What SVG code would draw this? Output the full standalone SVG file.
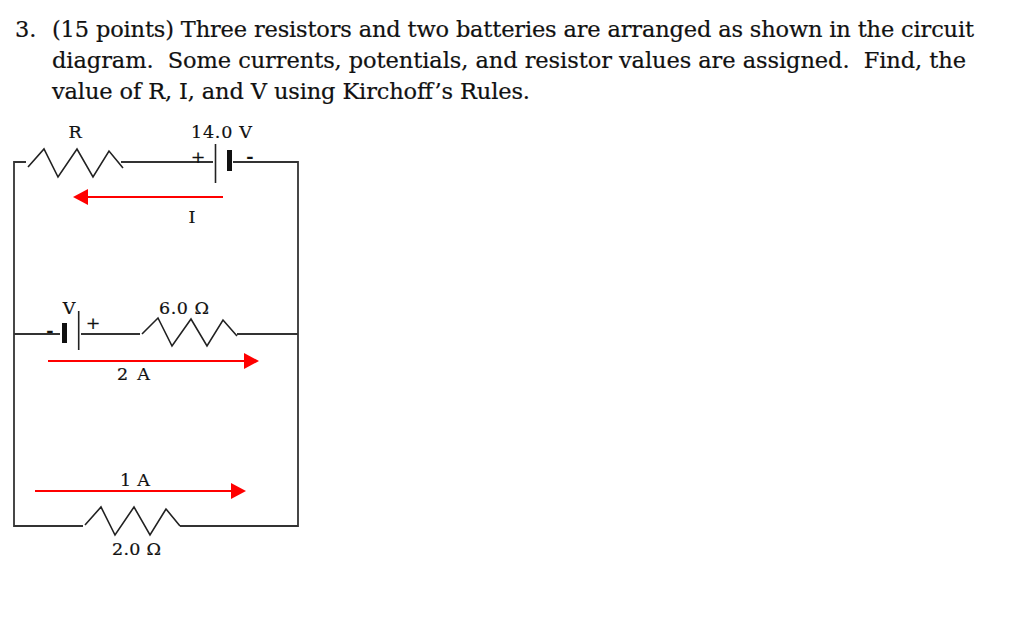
<svg xmlns="http://www.w3.org/2000/svg" width="1024" height="620" viewBox="0 0 1024 620">
<style>
text{font-family:"DejaVu Serif","Liberation Serif",serif;fill:#111;stroke:#111;stroke-width:.2;white-space:pre}
.q{font-size:22.500px}
.l{font-size:17.500px}
.s{font-size:17.500px;text-anchor:middle}
.w{fill:none;stroke:#333;stroke-width:1.800}
.r{fill:none;stroke:#222;stroke-width:1.600}
.a{fill:none;stroke:#f00;stroke-width:2}
.h{fill:#f00}
</style>
<rect width="1024" height="620" fill="#fff"/>
<g id="question">
<text class="q" x="15" y="37">3.</text>
<text class="q" x="52" y="37" textLength="922">(15 points) Three resistors and two batteries are arranged as shown in the circuit</text>
<text class="q" x="52" y="67.500" textLength="914">diagram.  Some currents, potentials, and resistor values are assigned.  Find, the</text>
<text class="q" x="52" y="98.500" textLength="478">value of R, I, and V using Kirchoff’s Rules.</text>
</g>
<g id="connectors">
<path class="w" d="M26 162H14V526H83M121 162H213M233 162H298V526H180M14 334H60M81 334H140M237 334H298"/>
<path class="a" d="M223 197H88M48 361H244M35 491H231"/>
<path class="h" d="M73 197L88 189V205Z"/>
<path class="h" d="M259 361L244 353V369Z"/>
<path class="h" d="M246 491L231 483V499Z"/>
</g>
<g id="resistor-r">
<path class="r" d="M28 167L44 149L58 177L77 149L93 177L109 151L123 168"/>
<text class="s" x="75" y="138">R</text>
</g>
<g id="battery-14v">
<path class="r" d="M215.500 144V183"/>
<rect x="227" y="150" width="5" height="21" fill="#111"/>
<text class="l" x="191" y="138" textLength="61">14.0 V</text>
<text class="s" x="198" y="163">+</text>
<text class="s" x="250" y="162" font-weight="bold">-</text>
</g>
<g id="current-i"><text class="s" x="192" y="223">I</text></g>
<g id="battery-v">
<path class="r" d="M78.700 311V350"/>
<rect x="62" y="323" width="5" height="20" fill="#111"/>
<text class="s" x="69" y="314">V</text>
<text class="s" x="50" y="336" font-weight="bold">-</text>
<text class="s" x="93" y="329">+</text>
</g>
<g id="resistor-6">
<path class="r" d="M142 334L158 318L172 346L191 319L207 346L223 320L237 336"/>
<text class="l" x="159" y="314" textLength="50">6.0 Ω</text>
</g>
<g id="current-2a"><text class="l" x="117" y="380" textLength="33">2 A</text></g>
<g id="current-1a"><text class="l" x="120" y="486" textLength="30">1 A</text></g>
<g id="resistor-2">
<path class="r" d="M85 525L101 507L115 535L134 507L150 535L166 509L180 526"/>
<text class="l" x="112" y="555" textLength="49">2.0 Ω</text>
</g>
</svg>
